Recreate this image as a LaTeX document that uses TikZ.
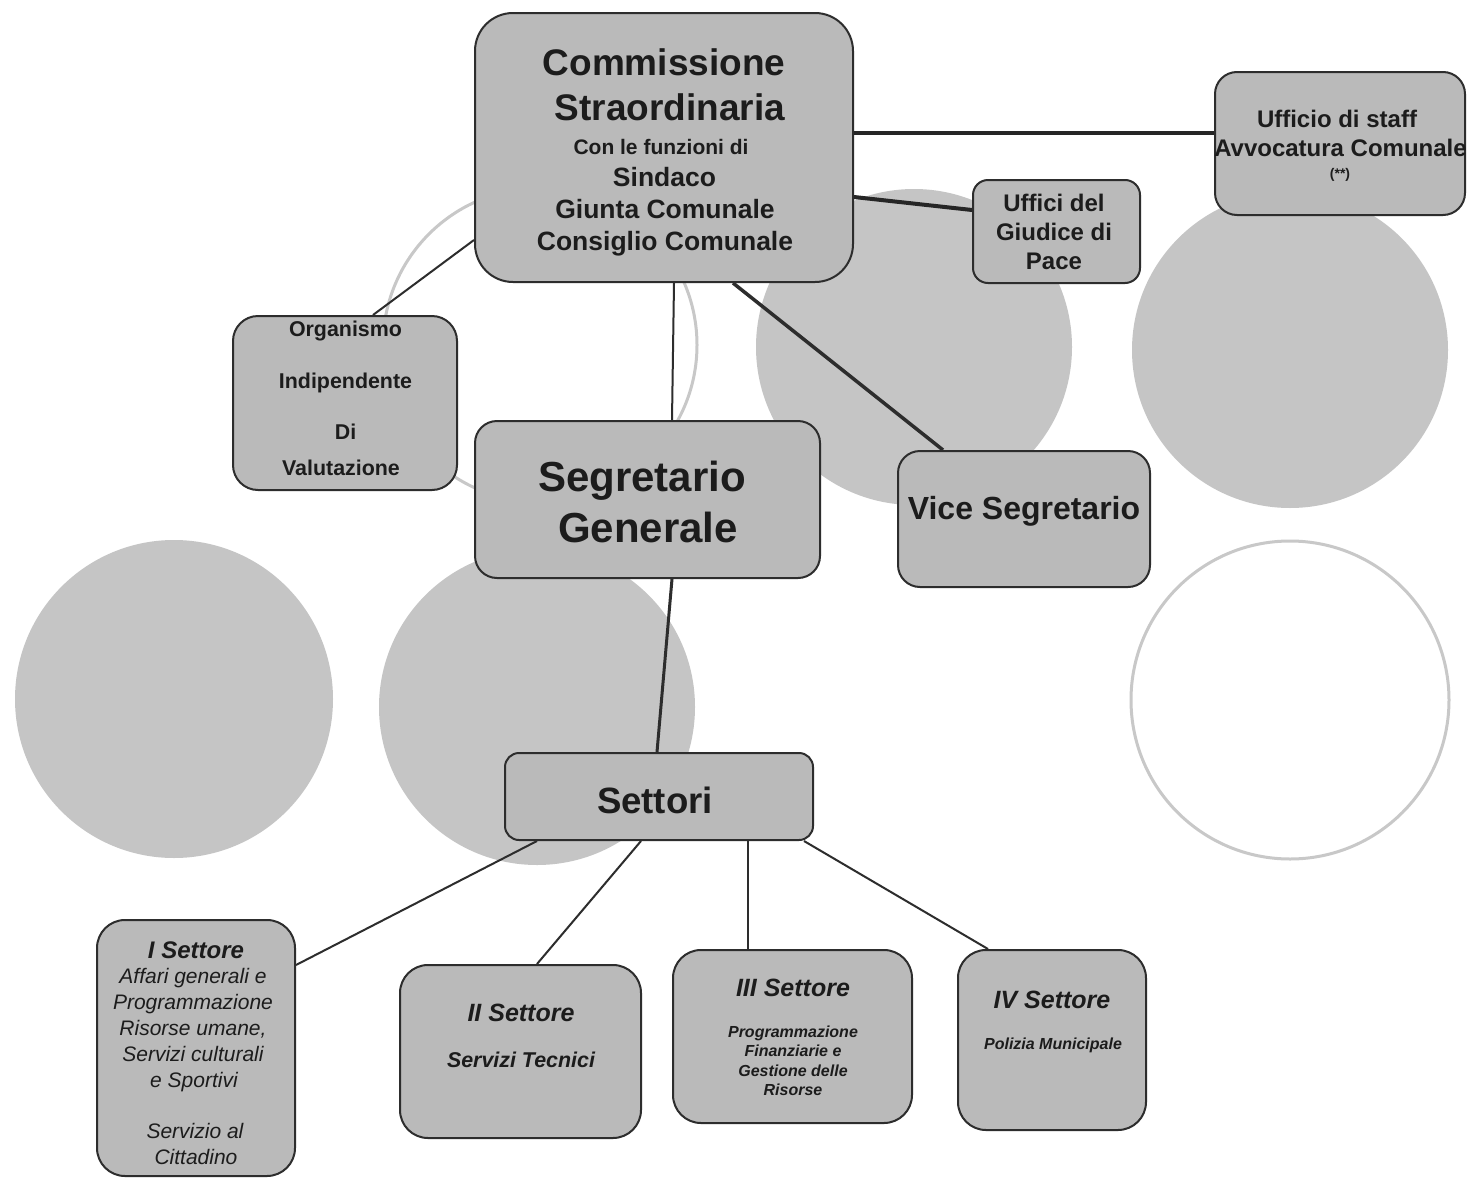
\documentclass[tikz,border=0pt]{standalone}
\usepackage{fontspec}
\setmainfont{Liberation Sans}
\definecolor{boxfill}{RGB}{186,186,186}
\definecolor{circfill}{RGB}{197,197,197}
\definecolor{circline}{RGB}{200,200,200}
\definecolor{edgecol}{RGB}{45,45,45}
\definecolor{txtcol}{RGB}{28,28,28}
\tikzset{
  orgbox/.style={draw=edgecol, line width=2pt, fill=boxfill, inner sep=0pt},
  txt/.style={anchor=base, inner sep=0pt, text=txtcol},
  link/.style={draw=edgecol, line width=2pt},
  heavylink/.style={draw=black!85, line width=4pt},
  fullcirc/.style={fill=circfill},
  ringcirc/.style={draw=circline, line width=3pt}
}
\newcommand{\fs}[1]{\fontsize{#1}{#1}\selectfont}
\begin{document}
\begin{tikzpicture}[x=1pt,y=-1pt]
\useasboundingbox (0,0) rectangle (1468,1178);
\fill[white] (0,0) rectangle (1468,1178);

% background circles
\draw[ringcirc] (540,345) circle[radius=157pt];
\fill[fullcirc] (914,347) circle[radius=158pt];
\fill[fullcirc] (1290,350) circle[radius=158pt];
\draw[ringcirc] (1290,700) circle[radius=159pt];
\fill[fullcirc] (174,699) circle[radius=159pt];
\fill[fullcirc] (537,707) circle[radius=158pt];

% boxes
\node[orgbox, rounded corners=38pt, minimum width=378pt, minimum height=269pt] (comm) at (664,147.5) {};
\node[orgbox, rounded corners=22pt, minimum width=250pt, minimum height=143pt] (staff) at (1340,143.5) {};
\node[orgbox, rounded corners=15pt, minimum width=167pt, minimum height=103pt] (giud) at (1056.5,231.5) {};
\node[orgbox, rounded corners=25pt, minimum width=224pt, minimum height=174pt] (org) at (345,403) {};
\node[orgbox, rounded corners=22pt, minimum width=345pt, minimum height=157pt] (seg) at (647.5,499.5) {};
\node[orgbox, rounded corners=22pt, minimum width=252pt, minimum height=136pt] (vice) at (1024,519) {};
\node[orgbox, rounded corners=14pt, minimum width=308pt, minimum height=87pt] (sett) at (659,796.5) {};
\node[orgbox, rounded corners=28pt, minimum width=198pt, minimum height=256pt] (s1) at (196,1048) {};
\node[orgbox, rounded corners=28pt, minimum width=241pt, minimum height=173pt] (s2) at (520.5,1051.5) {};
\node[orgbox, rounded corners=28pt, minimum width=239pt, minimum height=173pt] (s3) at (792.5,1036.5) {};
\node[orgbox, rounded corners=28pt, minimum width=188pt, minimum height=180pt] (s4) at (1052,1040) {};

% connectors
\draw[heavylink] ([yshift=14.5pt]comm.east) -- ([yshift=10.5pt]staff.west);
\draw[heavylink] ([yshift=-49.5pt]comm.east) -- ([yshift=21.5pt]giud.west);
\draw[link] ([yshift=-92.5pt]comm.west) -- ([xshift=28pt]org.north);
\draw[link] ([xshift=10pt]comm.south) -- ([xshift=24.5pt]seg.north);
\draw[link, line width=3.5pt] ([xshift=69pt]comm.south) -- ([xshift=-81pt]vice.north);
\draw[link, line width=3pt] ([xshift=24.5pt]seg.south) -- ([xshift=-2pt]sett.north);
\draw[link] ([xshift=-122pt]sett.south) -- ([yshift=83pt]s1.east);
\draw[link] ([xshift=-18pt]sett.south) -- ([xshift=16.5pt]s2.north);
\draw[link] ([xshift=89pt]sett.south) -- ([xshift=-44.5pt]s3.north);
\draw[link] ([xshift=145pt]sett.south) -- ([xshift=-64pt]s4.north);

% texts: Commissione
\node[txt, font=\bfseries\fs{37}] (c1) at (664,75) {Commissione};
\node[txt, font=\bfseries\fs{37}] (c2) at (670,120) {Straordinaria};
\node[txt, font=\bfseries\fs{21}] (c3) at (661,154) {Con le funzioni di};
\node[txt, font=\bfseries\fs{26.5}] (c4) at (664.5,186) {Sindaco};
\node[txt, font=\bfseries\fs{26.5}] (c5) at (665,218) {Giunta Comunale};
\node[txt, font=\bfseries\fs{26.5}] (c6) at (665,250) {Consiglio Comunale};

% staff
\node[txt, font=\bfseries\fs{24}] (u1) at (1337,127.5) {Ufficio di staff};
\node[txt, font=\bfseries\fs{24}] (u2) at (1340.5,156.5) {Avvocatura Comunale};
\node[txt, font=\bfseries\fs{14}] (u3) at (1340,178) {(**)};

% giudice
\node[txt, font=\bfseries\fs{24}] (g1) at (1054,211.5) {Uffici del};
\node[txt, font=\bfseries\fs{24}] (g2) at (1054,240.5) {Giudice di};
\node[txt, font=\bfseries\fs{24}] (g3) at (1054,269.5) {Pace};

% organismo
\node[txt, font=\bfseries\fs{21.4}] (o1) at (345.5,336.5) {Organismo};
\node[txt, font=\bfseries\fs{21.4}] (o2) at (345.5,388.5) {Indipendente};
\node[txt, font=\bfseries\fs{21.4}] (o3) at (345.5,439.5) {Di};
\node[txt, font=\bfseries\fs{21.4}] (o4) at (341,475.5) {Valutazione};

% segretario
\node[txt, font=\bfseries\fs{42}] (sg1) at (642,491) {Segretario};
\node[txt, font=\bfseries\fs{42}] (sg2) at (648,542) {Generale};

% vice
\node[txt, font=\bfseries\fs{32}] (v1) at (1024,519) {Vice Segretario};

% settori
\node[txt, font=\bfseries\fs{36.6}] (st) at (655,813) {Settori};

% I settore
\node[txt, font=\bfseries\itshape\fs{24}] (a0) at (196,958.5) {I Settore};
\node[txt, font=\itshape\fs{21}] (a1) at (193,983.5) {Affari generali e};
\node[txt, font=\itshape\fs{21}] (a2) at (193,1009.5) {Programmazione};
\node[txt, font=\itshape\fs{21}] (a3) at (193,1035.5) {Risorse umane,};
\node[txt, font=\itshape\fs{21}] (a4) at (193,1061.5) {Servizi culturali};
\node[txt, font=\itshape\fs{21}] (a5) at (194,1087.5) {e Sportivi};
\node[txt, font=\itshape\fs{21}] (a6) at (195,1138.5) {Servizio al};
\node[txt, font=\itshape\fs{21}] (a7) at (196,1164.5) {Cittadino};

% II settore
\node[txt, font=\bfseries\itshape\fs{25}] (b0) at (521,1021) {II Settore};
\node[txt, font=\bfseries\itshape\fs{21.4}] (b1) at (521,1067.5) {Servizi Tecnici};

% III settore
\node[txt, font=\bfseries\itshape\fs{25}] (d0) at (793,996) {III Settore};
\node[txt, font=\bfseries\itshape\fs{16}] (d1) at (793,1037.5) {Programmazione};
\node[txt, font=\bfseries\itshape\fs{16}] (d2) at (793,1056.5) {Finanziarie e};
\node[txt, font=\bfseries\itshape\fs{16}] (d3) at (793,1076.5) {Gestione delle};
\node[txt, font=\bfseries\itshape\fs{16}] (d4) at (793,1095.5) {Risorse};

% IV settore
\node[txt, font=\bfseries\itshape\fs{25}] (e0) at (1052,1008) {IV Settore};
\node[txt, font=\bfseries\itshape\fs{16}] (e1) at (1053,1049.5) {Polizia Municipale};
\end{tikzpicture}
\end{document}
